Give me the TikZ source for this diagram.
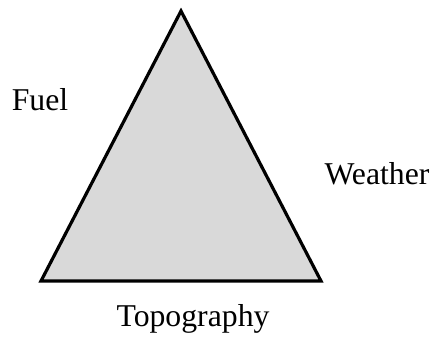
\documentclass[tikz,border=0pt]{standalone}
\usepackage{fontspec}
\setmainfont{Liberation Serif}

\begin{document}
\begin{tikzpicture}[x=0.75pt, y=-0.75pt]
    \useasboundingbox (0,0) rectangle (434,337);
    \tikzset{side label/.style={font=\fontsize{23.8}{28}\selectfont, inner sep=0pt}}

    % Corners of the fire triangle
    \coordinate (Top) at (181,11);
    \coordinate (Left) at (41,281);
    \coordinate (Right) at (321,281);

    % The triangle itself
    \filldraw[fill=black!15, draw=black, line width=2.4pt, line join=miter] (Top) -- (Left) -- (Right) -- cycle;

    % Labels for the three sides
    \node[side label] (fuel) at (40,100) {Fuel};
    \node[side label] (weather) at (377,174) {Weather};
    \node[side label] (topo) at (193,319) {Topography};

\end{tikzpicture}
\end{document}
